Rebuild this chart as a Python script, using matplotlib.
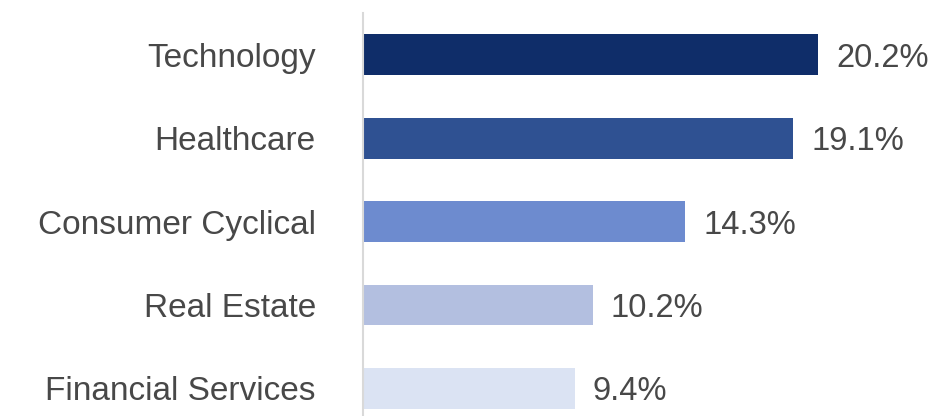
import matplotlib.pyplot as plt

sectors = ["Technology", "Healthcare", "Consumer Cyclical", "Real Estate", "Financial Services"]
weights = [20.2, 19.1, 14.3, 10.2, 9.4]
colors = ["#0f2d69", "#2f5192", "#6d8bcf", "#b3bfe0", "#dbe3f3"]

plt.rcParams['font.family'] = ['Liberation Sans', 'DejaVu Sans']

fig = plt.figure(figsize=(9.29, 4.16), dpi=100)
ax = fig.add_axes([363 / 929, 0, 1 - 363 / 929, 403 / 416])

pos = list(range(len(sectors)))
ax.barh(pos, weights, height=0.49, color=colors)

for p, w in zip(pos, weights):
    ax.annotate(f"{w:.1f}%", (w, p), xytext=(13, 0), textcoords='offset points',
                va='center_baseline', ha='left', fontsize=23.5, color='#484848')

ax.set_xlim(0, 566 / 22.52)
ax.set_ylim(4.33, -0.5)
ax.set_yticks(pos)
ax.set_yticklabels(sectors, fontsize=24, color='#484848', va='center_baseline')
ax.tick_params(axis='y', length=0, pad=34)
ax.set_xticks([])
for s in ['top', 'right', 'bottom']:
    ax.spines[s].set_visible(False)
ax.spines['left'].set_color('#d9d9d9')
ax.spines['left'].set_linewidth(1.5)

fig.savefig("out.png", dpi=100)
